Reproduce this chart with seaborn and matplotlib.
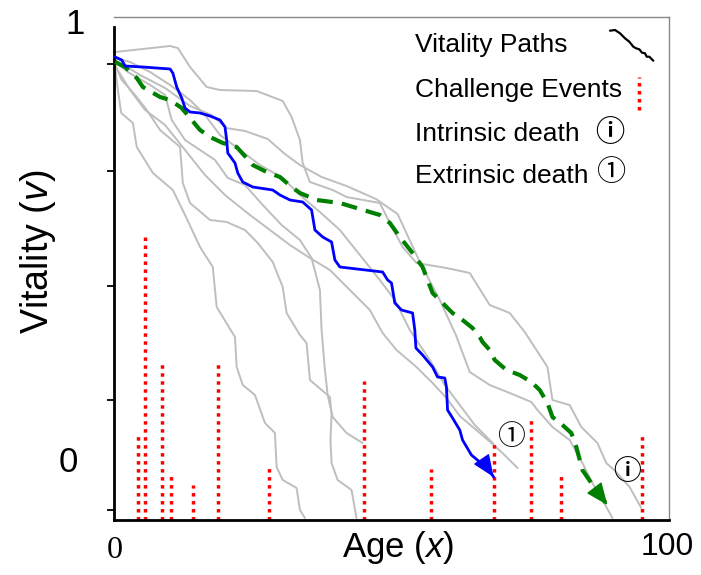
import matplotlib
matplotlib.use("Agg")
import matplotlib.pyplot as plt
from matplotlib.lines import Line2D
import pandas as pd
import seaborn as sns

# ---- challenge events: age of occurrence and magnitude ----
event_age = [4.3, 5.5, 8.6, 10.3, 14.3, 18.7, 27.9, 45.1, 57.1, 68.5, 75.1, 80.5, 95.1]
event_size = [0.168, 0.57, 0.312, 0.096, 0.07, 0.312, 0.104, 0.278, 0.102, 0.152, 0.204, 0.096, 0.168]

# ---- highlighted path ended by a challenge (extrinsic death) ----
blue_age = [0.2, 1.4, 2.0, 5.2, 10.1, 10.6, 11.3, 12.2, 12.8, 13.7, 15.5, 17.3, 19.1, 20.0, 20.3,
            20.5, 21.8, 22.3, 23.2, 25.0, 28.6, 29.9, 31.7, 34.0, 35.6, 36.2, 37.6, 39.2, 39.8, 40.7,
            48.4, 49.3, 50.0, 50.6, 51.8, 53.8, 54.2, 54.4, 55.6, 57.4, 58.3, 59.6, 59.9, 60.1, 61.0,
            62.3, 62.8, 64.4, 65.9, 67.3, 68.4]
blue_v = [0.926, 0.92, 0.908, 0.906, 0.902, 0.894, 0.866, 0.844, 0.824, 0.816, 0.814, 0.808, 0.80, 0.786, 0.76,
          0.734, 0.714, 0.694, 0.676, 0.666, 0.66, 0.65, 0.64, 0.636, 0.62, 0.58, 0.566, 0.556, 0.52, 0.506,
          0.496, 0.48, 0.474, 0.434, 0.42, 0.414, 0.38, 0.344, 0.33, 0.306, 0.286, 0.284, 0.266, 0.22, 0.204,
          0.18, 0.16, 0.13, 0.116, 0.104, 0.086]

# ---- highlighted path running down to zero (intrinsic death) ----
green_age = [0.2, 2.0, 4.1, 5.2, 8.3, 10.1, 12.2, 13.7, 15.5, 17.3, 19.6, 22.1, 23.9, 25.0, 27.5,
             29.9, 32.0, 33.5, 36.5, 40.7, 43.7, 47.9, 49.7, 51.5, 53.8, 55.6, 56.5, 57.4, 59.2, 61.0,
             62.8, 64.6, 65.9, 66.4, 67.7, 68.6, 70.7, 73.1, 75.2, 76.7, 78.1, 79.0, 80.8, 82.4, 83.3,
             84.4, 86.0, 87.8, 88.9]
green_v = [0.916, 0.906, 0.884, 0.866, 0.846, 0.84, 0.824, 0.804, 0.78, 0.766, 0.754, 0.746, 0.724, 0.71, 0.696,
           0.686, 0.666, 0.654, 0.64, 0.634, 0.624, 0.61, 0.594, 0.566, 0.534, 0.506, 0.48, 0.454, 0.434, 0.414,
           0.40, 0.384, 0.366, 0.356, 0.34, 0.32, 0.30, 0.29, 0.276, 0.26, 0.234, 0.206, 0.19, 0.174, 0.146,
           0.10, 0.074, 0.046, 0.03]

# ---- background vitality paths ----
path1_age = [0.2, 10.1, 11.5, 13.7, 16.7, 19.1, 25.7, 30.4, 32.0, 33.5, 34.0, 35.3, 39.4, 41.9, 47.9, 49.7,
             52.0, 54.5, 59.9, 64.1, 67.7, 71.3, 74.0, 78.1, 79.0, 82.1, 84.2, 87.1, 88.7, 90.5, 92.9, 95.0]
path1_v = [0.936, 0.948, 0.944, 0.906, 0.866, 0.86, 0.858, 0.838, 0.806, 0.76, 0.714, 0.676, 0.66, 0.646, 0.634, 0.594,
           0.546, 0.514, 0.504, 0.494, 0.43, 0.414, 0.376, 0.306, 0.24, 0.23, 0.186, 0.154, 0.114, 0.096, 0.066, 0.024]

path2_age = [0.2, 0.7, 1.3, 3.4, 4.1, 7.0, 10.6, 12.8, 15.5, 17.8, 18.5, 21.8, 22.1, 23.2, 25.4, 27.2,
             29.0, 29.3, 30.4, 32.9, 33.5, 34.4]
path2_v = [0.904, 0.86, 0.814, 0.794, 0.746, 0.694, 0.66, 0.61, 0.546, 0.506, 0.426, 0.366, 0.306, 0.27, 0.25, 0.194,
           0.174, 0.106, 0.08, 0.064, 0.02, 0.004]

path3_age = [0.2, 1.4, 3.8, 5.9, 8.3, 11.9, 12.4, 13.7, 17.3, 20.3, 23.6, 25.9, 28.6, 30.4, 31.1, 33.5,
             34.7, 35.3, 38.9, 39.2, 39.0, 39.2, 40.3, 42.8, 43.7]
path3_v = [0.91, 0.88, 0.85, 0.82, 0.78, 0.746, 0.674, 0.634, 0.60, 0.596, 0.58, 0.554, 0.516, 0.466, 0.414, 0.37,
           0.354, 0.28, 0.246, 0.21, 0.16, 0.114, 0.08, 0.06, 0.004]

path4_age = [0.2, 2.5, 6.5, 9.2, 10.4, 12.8, 15.5, 18.2, 20.5, 23.6, 26.8, 30.2, 33.5, 35.6, 37.1, 37.4,
             38.0, 38.5, 39.4, 41.9, 44.8]
path4_v = [0.916, 0.896, 0.87, 0.85, 0.80, 0.76, 0.74, 0.72, 0.684, 0.67, 0.63, 0.59, 0.56, 0.524, 0.46, 0.38,
           0.30, 0.25, 0.206, 0.174, 0.154]

path5_age = [0.2, 2.9, 6.5, 10.1, 13.7, 16.4, 19.1, 22.7, 26.3, 30.4, 33.5, 37.1, 40.7, 44.3, 47.9, 50.6,
             53.3, 56.9, 59.6, 62.3, 65.0, 68.4]
path5_v = [0.924, 0.916, 0.896, 0.87, 0.84, 0.81, 0.77, 0.74, 0.71, 0.684, 0.65, 0.616, 0.58, 0.53, 0.48, 0.44,
           0.38, 0.32, 0.27, 0.23, 0.19, 0.152]

path6_age = [0.2, 2.9, 5.6, 9.2, 12.8, 16.4, 20.0, 24.5, 28.1, 31.7, 35.3, 38.9, 42.5, 46.1, 48.4, 50.9,
             54.5, 57.4, 59.9, 62.3, 65.9, 68.2, 70.0, 72.7]
path6_v = [0.908, 0.86, 0.82, 0.79, 0.74, 0.69, 0.65, 0.61, 0.58, 0.55, 0.524, 0.50, 0.46, 0.42, 0.374, 0.34,
           0.306, 0.274, 0.244, 0.208, 0.174, 0.152, 0.134, 0.104]

path7_age = [0.2, 4.7, 9.2, 13.7, 17.6, 20.2, 23.6, 27.7, 30.8, 33.5, 37.4, 41.9, 47.2, 51.1, 55.1, 58.7,
             61.6, 64.1, 67.7, 71.3, 75.2, 76.3, 79.0, 82.1, 84.4, 86.2, 88.0, 89.8]
path7_v = [0.92, 0.89, 0.864, 0.828, 0.81, 0.784, 0.778, 0.762, 0.732, 0.71, 0.686, 0.668, 0.642, 0.612, 0.516, 0.44,
           0.37, 0.296, 0.27, 0.254, 0.236, 0.22, 0.186, 0.16, 0.114, 0.074, 0.04, 0.004]

# death markers placed where the paths end
extrinsic_mark = (71.6, 0.166)
intrinsic_mark = (92.5, 0.096)

legend_labels = ["Vitality Paths", "Challenge Events", "Intrinsic death", "Extrinsic death"]

# ---------------------------------------------------------------------------
sns.set_style("white")
plt.rcParams["font.family"] = ["Liberation Sans", "DejaVu Sans"]
plt.rcParams["text.color"] = "black"
plt.rcParams["axes.labelcolor"] = "black"
plt.rcParams["mathtext.fontset"] = "custom"
plt.rcParams["mathtext.rm"] = "Liberation Sans"
plt.rcParams["mathtext.it"] = "Liberation Sans:italic"

SYMBOL_FONT = ["Noto Sans CJK JP", "DejaVu Sans"]
DOTTED = (0, (1, 1.3))

W, H = 701, 575
fig = plt.figure(figsize=(W / 100, H / 100), dpi=100)
ax = fig.add_axes([114 / W, 1 - 520 / H, 555 / W, 503 / H])


def frame(age, vit):
    return pd.DataFrame({"age": age, "vitality": vit})


gray_paths = [(path1_age, path1_v), (path2_age, path2_v), (path3_age, path3_v),
              (path4_age, path4_v), (path5_age, path5_v), (path6_age, path6_v),
              (path7_age, path7_v)]
for age, vit in gray_paths:
    sns.lineplot(data=frame(age, vit), x="age", y="vitality", sort=False, estimator=None,
                 color="#bebebe", lw=1.4, ax=ax, zorder=1)

# challenge events as dotted red bars
ax.vlines(event_age, 0, event_size, colors="red", linestyles=DOTTED, lw=2.5, zorder=2)

sns.lineplot(data=frame(green_age, green_v), x="age", y="vitality", sort=False, estimator=None,
             color="green", lw=3.0, ax=ax, zorder=3, linestyle=(0, (3.8, 2.2)))
sns.lineplot(data=frame(blue_age, blue_v), x="age", y="vitality", sort=False, estimator=None,
             color="blue", lw=2.0, ax=ax, zorder=4)

# arrow heads at the end of the highlighted paths
for ages, vits, col in [(blue_age, blue_v, "blue"), (green_age, green_v, "green")]:
    ax.annotate("", xy=(ages[-1], vits[-1]), xytext=(ages[-2], vits[-2]),
                arrowprops=dict(arrowstyle="-|>,head_length=1.0,head_width=0.42", color=col,
                                lw=1.0, shrinkA=0, shrinkB=0, mutation_scale=14), zorder=5)

ax.text(*extrinsic_mark, "\u2460", family=SYMBOL_FONT, fontsize=20, ha="center", va="center")
ax.text(*intrinsic_mark, "\u24d8", family=SYMBOL_FONT, fontsize=20, ha="center", va="center",
        fontweight="bold")

ax.set_xlim(0, 100)
ax.set_ylim(0, 1.006)
ax.set_xticks([])
ax.set_yticks([0.912, 0.698, 0.468, 0.24, 0.02])
ax.tick_params(axis="y", direction="out", length=5, width=1.3, color="black", labelleft=False, left=True)

for side in ["top", "right"]:
    ax.spines[side].set_color("#888888")
    ax.spines[side].set_linewidth(1.0)
for side in ["left", "bottom"]:
    ax.spines[side].set_color("black")
    ax.spines[side].set_linewidth(2.0)
ax.spines["left"].set_bounds(0, 0.986)

ax.set_xlabel("Age ($x$)", fontsize=25)
ax.xaxis.label.set_va("center")
ax.xaxis.set_label_coords((398 - 114) / 555, (520 - 548) / 503)
ax.set_ylabel("Vitality ($v$)", fontsize=27)
ax.yaxis.label.set_va("center")
ax.yaxis.set_label_coords((38 - 114) / 555, (520 - 252) / 503)

# end labels of the axes
fig.text(75 / W, 1 - 25 / H, "1", fontsize=25, ha="center", va="center")
fig.text(68 / W, 1 - 462 / H, "0", fontsize=25, ha="center", va="center")
fig.text(115 / W, 1 - 551 / H, "0", fontsize=23, family="Liberation Serif", ha="center", va="center")
fig.text(667 / W, 1 - 547 / H, "100", fontsize=23, ha="center", va="center")

# legend drawn by hand
baselines = [52, 97, 141, 183]
for label, b in zip(legend_labels, baselines):
    fig.text(415 / W, 1 - b / H, label, fontsize=19, ha="left", va="baseline")

wave_x = [610, 615, 620, 625, 629.3, 633.3, 636, 639.3, 642, 645, 646.7, 649.3, 653.3]
wave_y = [30.7, 30, 33.3, 38.3, 41.7, 46.7, 48.3, 49.3, 52.7, 53.3, 56.7, 56.7, 60.7]
fig.add_artist(Line2D([x / W for x in wave_x], [1 - y / H for y in wave_y], color="black", lw=1.6,
                      transform=fig.transFigure))
fig.add_artist(Line2D([639 / W, 639 / W], [1 - 110 / H, 1 - 77 / H], color="red", lw=2.5,
                      linestyle=DOTTED, transform=fig.transFigure))
fig.text(610 / W, 1 - 132 / H, "\u24d8", family=SYMBOL_FONT, fontsize=21, ha="center", va="center",
         fontweight="bold")
fig.text(612 / W, 1 - 173 / H, "\u2460", family=SYMBOL_FONT, fontsize=21, ha="center", va="center")

fig.savefig("out.png", dpi=100)
